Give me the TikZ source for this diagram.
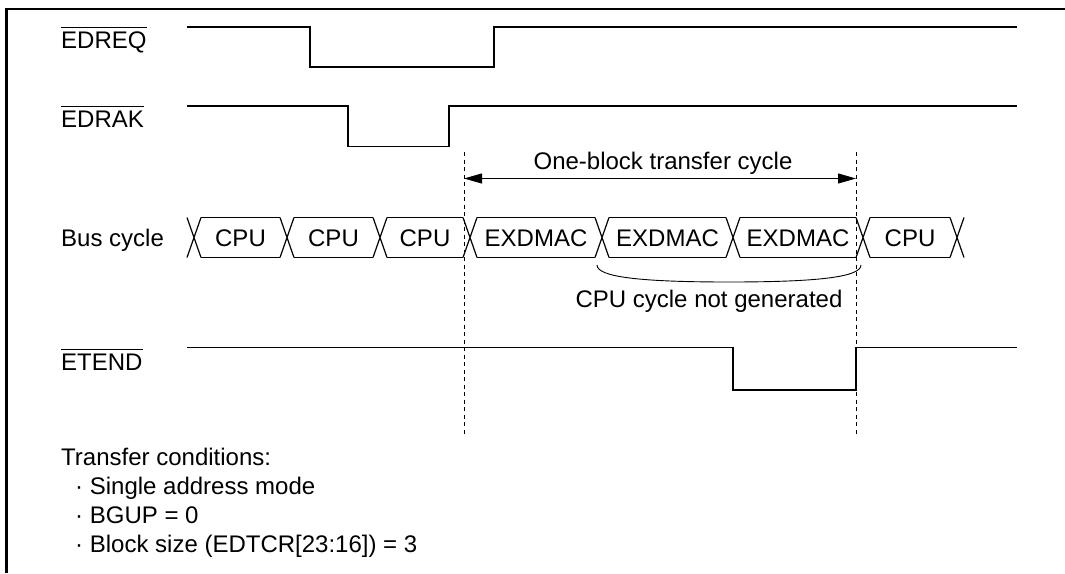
\documentclass[tikz,border=0pt]{standalone}
\usepackage{fontspec}
\setmainfont{Liberation Sans}
\usetikzlibrary{positioning}
\usetikzlibrary{arrows.meta}

\tikzset{
  lbl/.style={inner sep=0pt, font=\fontsize{24pt}{29pt}\selectfont},
  wave/.style={line width=1.2pt},
  guide/.style={line width=0.9pt, dash pattern=on 4pt off 3.5pt},
  span/.style={line width=0.9pt, {Triangle[length=18pt,width=10pt]}-{Triangle[length=18pt,width=10pt]}},
}

\begin{document}
\begin{tikzpicture}[x=1pt, y=-1pt]
  \useasboundingbox (0,0) rectangle (1065,573);
  % frame
  \draw[line width=2.2pt] (6.4,573) -- (6.4,8.6) -- (1065,8.6);

  % signal names
  \node[lbl, anchor=base west] (req) at (61,48.5) {EDREQ};
  \node[lbl, anchor=base west] (rak) at (61,127.5) {EDRAK};
  \node[lbl, anchor=base west] (bus) at (61,246.5) {Bus cycle};
  \node[lbl, anchor=base west] (tend) at (61,370.5) {ETEND};
  \foreach \n in {req,rak,tend}
    \draw[line width=1pt] ([yshift=4.5pt]\n.north west) -- ([yshift=4.5pt]\n.north east);

  % waveforms
  \draw[wave] (187,27) -- (310,27) -- (310,67) -- (494,67) -- (494,27) -- (1017,27);
  \draw[wave] (187,106) -- (348,106) -- (348,146.5) -- (449,146.5) -- (449,106) -- (1017,106);
  \draw[wave] (187,347.5) -- (733,347.5) -- (733,390) -- (856,390) -- (856,347.5) -- (1017,347.5);

  % bus cycles
  \foreach \a/\b/\txt [count=\k] in {194/287/CPU, 287/380/CPU, 380/470/CPU, 470/602/EXDMAC,
      602/733/EXDMAC, 733/863/EXDMAC, 863/957/CPU} {
    \draw[wave] (\a+7,217.5) -- (\b-7,217.5) (\a+7,257.5) -- (\b-7,257.5);
    \node[lbl, anchor=base] (cyc\k) at ({(\a+\b)/2},246.5) {\txt};
  }
  \foreach \c in {194,287,380,470,602,733,863,957}
    \draw[wave] (\c-7,217.5) -- (\c+7,257.5) (\c-7,257.5) -- (\c+7,217.5);

  % block limits
  \coordinate (startT) at (464,152);
  \coordinate (startB) at (464,434);
  \coordinate (endT) at (856,152);
  \coordinate (endB) at (856,434);
  \draw[guide] (startT) -- (startB);
  \draw[guide] (endT) -- (endB);

  \coordinate (spanL) at (464,178.5);
  \coordinate (spanR) at (856,178.5);
  \draw[span] (spanL) -- (spanR);
  \node[lbl, anchor=base] (spantxt) at (663,169.5) {One-block transfer cycle};

  % no CPU cycle
  \coordinate (skipL) at (597,265);
  \coordinate (skipR) at (861,265);
  \draw[line width=0.9pt] (skipL) .. controls (597,277) and (640,282) .. (729,282)
    .. controls (818,282) and (861,277) .. (skipR);
  \node[lbl, anchor=base] (skip) at (709,307) {CPU cycle not generated};

  % conditions
  \node[lbl, anchor=base west] (cond) at (61,465) {Transfer conditions:};
  \foreach \txt [count=\k] in {Single address mode, BGUP = 0, {Block size (EDTCR[23:16]) = 3}}
    \node[lbl, anchor=base west] (cond\k) at (75,{465+29*\k}) {· \txt};
\end{tikzpicture}
\end{document}
